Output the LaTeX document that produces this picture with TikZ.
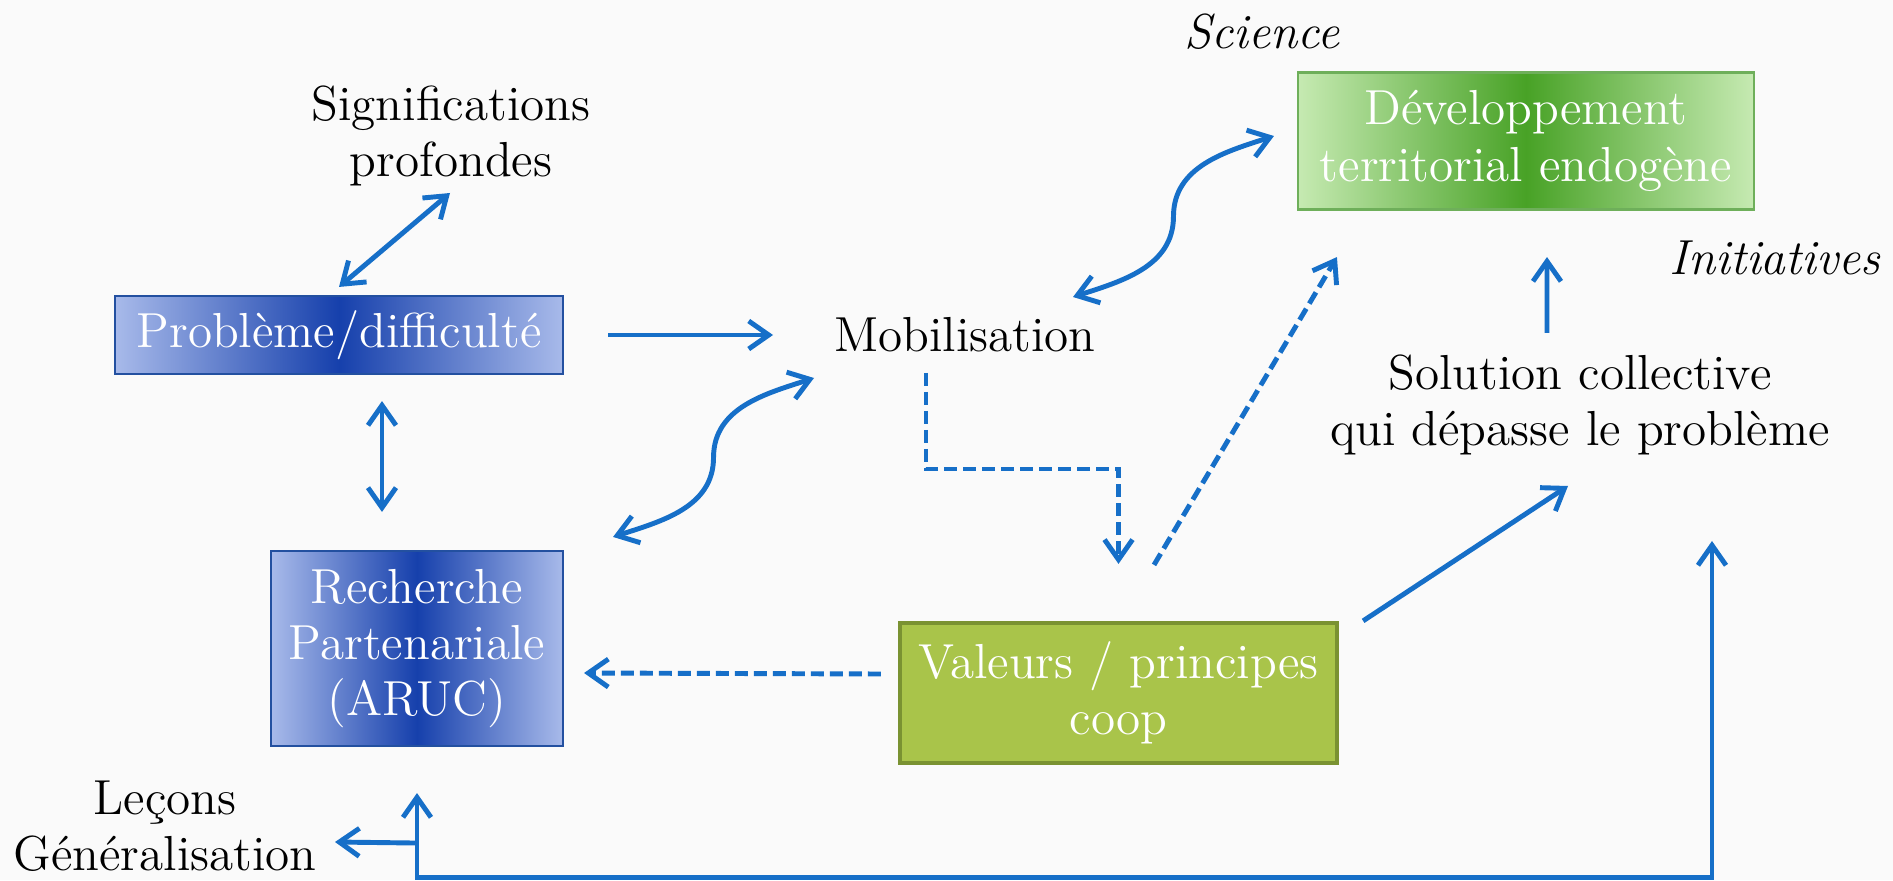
\documentclass[tikz,border=0pt]{standalone}
\usepackage{tikz}
\usetikzlibrary{arrows.meta,calc}
\definecolor{linkblue}{RGB}{22,111,200}
\definecolor{probLight}{RGB}{168,186,234}
\definecolor{probDark}{RGB}{22,64,172}
\definecolor{probEdge}{RGB}{35,80,160}
\definecolor{devLight}{RGB}{198,234,178}
\definecolor{devDark}{RGB}{72,162,38}
\definecolor{devEdge}{RGB}{110,175,90}
\definecolor{valFill}{RGB}{169,196,74}
\definecolor{valEdge}{RGB}{122,146,50}
\definecolor{bgcol}{RGB}{250,250,250}

\begin{document}
\begin{tikzpicture}[
    node distance=1cm,
    every node/.style={font=\fontsize{14}{16}\selectfont, inner sep=0pt, align=center},
    tag/.style={font=\fontsize{14}{16}\selectfont\itshape},
    bluebox/.style={draw=probEdge, line width=0.6pt, left color=probLight, right color=probLight, middle color=probDark, text=white},
    greenbox/.style={draw=devEdge, line width=0.6pt, left color=devLight, right color=devLight, middle color=devDark, text=white},
    valbox/.style={draw=valEdge, line width=1.2pt, fill=valFill, text=white},
    link/.style={draw=linkblue, line width=1.4pt, >={Straight Barb[length=2mm,width=2.8mm]}},
    dashlink/.style={link, dash pattern=on 1.3mm off 0.6mm}
  ]
      \useasboundingbox (0,0) rectangle (18.93,8.80);
      \fill[bgcol] (0,0) rectangle (18.93,8.80);

      \node[bluebox, minimum width=4.48cm, minimum height=0.78cm] (1) at (3.39,5.45) {Problème/difficulté};
      \node[right of=1, xshift=5.26cm] (2) {Mobilisation};
      \node[above of=1, xshift=1.12cm, yshift=0.99cm] (3) {Significations\\profondes};
      \node[bluebox, below of=1, xshift=0.78cm, yshift=-2.135cm, minimum width=2.92cm, minimum height=1.95cm] (4) {Recherche\\Partenariale\\(ARUC)};
      \node[greenbox, above of=2, xshift=5.61cm, yshift=0.94cm, minimum width=4.56cm, minimum height=1.37cm] (5) {Développement\\territorial endogène};
      \node[below of=5, xshift=0.54cm, yshift=-1.64cm] (6) {Solution collective\\qui dépasse le problème};
      \node[valbox, below of=2, xshift=1.535cm, yshift=-2.58cm, minimum width=4.37cm, minimum height=1.40cm] (7) {Valeurs / principes\\coop};
      \node[tag, above of=5, xshift=-2.64cm, yshift=0.09cm] (8) {Science};
      \node[tag, below of=5, xshift=2.49cm, yshift=-0.17cm] (9) {Initiatives};
      \node[below of=4, xshift=-2.52cm, yshift=-0.775cm] (10) {Leçons\\Généralisation};

      \coordinate (4a) at ([shift={(0.49,0.13)}]4.north east);
      \coordinate (2a) at ([shift={(-1.51,-0.43)}]2.center);
      \coordinate (2b) at ([shift={(1.08,0.38)}]2.center);
      \coordinate (5a) at ([shift={(-0.23,0.05)}]5.west);

      \draw[link,<->] ([yshift=0.8mm]1.north) -- ([shift={(-0.01,-0.57)}]3.center);
      \draw[link,->] ([xshift=4.4mm]1.east) -- ([xshift=-19.2mm]2.center);
      \draw[link,<->] ([shift={(0.43,-0.26)}]1.south) -- ([shift={(-0.35,0.38)}]4.north);
      \draw[link,<->] (4a) to[out=18,in=-90] ($(4a)!0.5!(2a)$) to[out=90,in=198] (2a);
      \draw[link,<->] (2b) to[out=18,in=-90] ($(2b)!0.5!(5a)$) to[out=90,in=198] (5a);
      \draw[dashlink,->] ([shift={(-0.39,-0.38)}]2.center) -- ++(0,-0.96) -| ([yshift=5.7mm]7.north);
      \draw[dashlink,->] ([shift={(0.355,0.56)}]7.north) -- ([shift={(0.40,-0.465)}]5.south west);
      \draw[link,->] ([shift={(-0.33,0.72)}]6.center) -- ([shift={(0.21,-0.465)}]5.south);
      \draw[link,->] ([xshift=2.4mm]7.north east) -- ([shift={(-0.12,-0.81)}]6.center);
      \draw[dashlink,->] ([shift={(-0.17,0.19)}]7.west) -- ([shift={(0.20,-0.245)}]4.east);
      \draw[link,<->] ([yshift=-4.6mm]4.south) -- ++(0,-0.84) -| ([shift={(1.32,-1.36)}]6.center);
      \draw[link,->] ([yshift=-9.6mm]4.south) -- ([shift={(1.70,-0.16)}]10.center);
    \end{tikzpicture}
\end{document}
